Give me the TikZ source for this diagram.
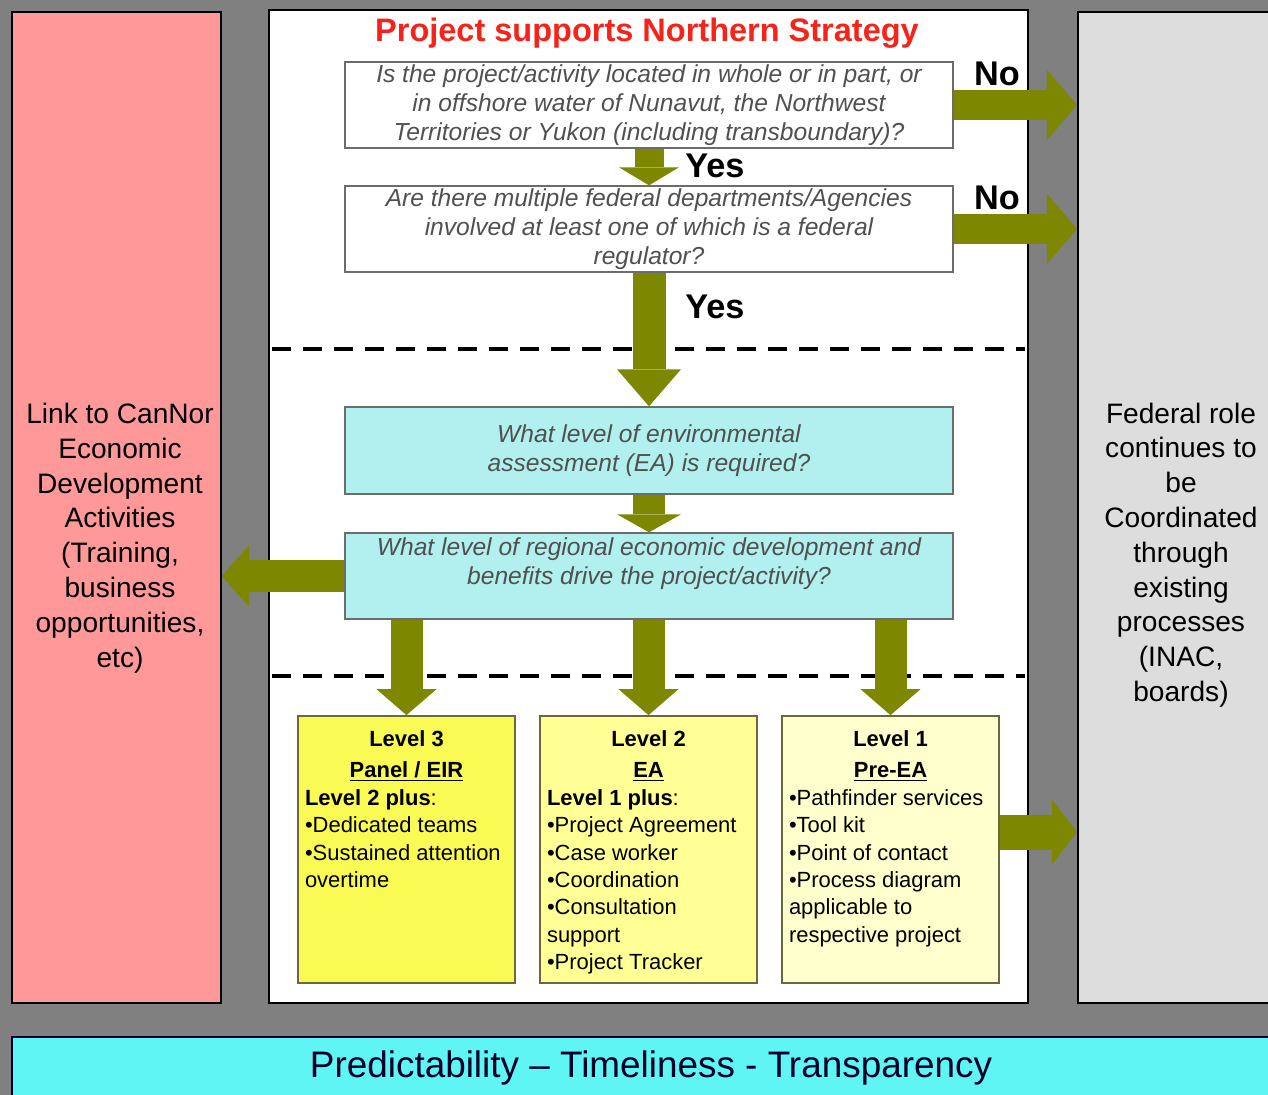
\documentclass[tikz,border=0pt]{standalone}
\usepackage{fontspec}
\setmainfont{Liberation Sans}
\usepackage{xcolor}
\usetikzlibrary{positioning,arrows.meta}

\definecolor{bggray}{RGB}{128,128,128}
\definecolor{linkpink}{RGB}{255,153,153}
\definecolor{fedgray}{RGB}{221,221,221}
\definecolor{barcyan}{RGB}{95,245,245}
\definecolor{askcyan}{RGB}{178,240,240}
\definecolor{arrowgreen}{RGB}{125,135,0}
\definecolor{lvthree}{RGB}{250,250,85}
\definecolor{lvtwo}{RGB}{255,255,150}
\definecolor{lvone}{RGB}{255,255,205}
\definecolor{lvedge}{RGB}{105,105,60}
\definecolor{asktext}{RGB}{80,80,80}
\definecolor{titlered}{RGB}{245,35,25}

\tikzset{
  panel/.style={draw=black, line width=1.2pt, inner sep=0pt},
  askbox/.style={draw=gray!85!black, line width=0.8pt, fill=white, minimum width=12.16cm, minimum height=1.72cm, inner sep=0pt, text=asktext, align=center, font=\fontsize{14}{16.4}\selectfont\itshape},
  lvlbox/.style={draw=lvedge, line width=1pt, inner xsep=0.14cm, inner ysep=0.3cm, font=\fontsize{12.5}{15.6}\selectfont},
  sidetext/.style={align=center, font=\fontsize{16}{19.8}\selectfont},
  answer/.style={font=\fontsize{19.5}{22}\selectfont\bfseries},
  divider/.style={line width=2.2pt, dash pattern=on 0.38cm off 0.24cm},
  blockarrow/.style n args={3}{arrowgreen, line width=#1, -{Triangle[width=#2, length=#3, line width=0pt]}}
}

\begin{document}
\begin{tikzpicture}[x=0.02cm, y=-0.02cm]
    \useasboundingbox (0,0) rectangle (1268,1095);
    \fill[bggray] (0,0) rectangle (1268,1095);

    % Panels
    \node[panel, fill=linkpink, minimum width=4.18cm, minimum height=19.82cm] (link) at (116.5,507.5) {};
    \node[panel, fill=white, minimum width=15.18cm, minimum height=19.86cm] (ctr) at (648.5,506.5) {};
    \node[panel, fill=fedgray, minimum width=4.24cm, minimum height=19.82cm] (fed) at (1184,507.5) {};
    \node[draw=black!80!blue, line width=1.2pt, fill=barcyan, minimum width=25.56cm, minimum height=1.24cm,
          text=black!85!blue, font=\fontsize{21}{24}\selectfont] (bar) at (651,1068) {Predictability -- Timeliness - Transparency};

    % Side texts
    \node[sidetext] (linktxt) at (120,538) {Link to CanNor\\Economic\\Development\\Activities\\(Training,\\business\\opportunities,\\etc)};
    \node[sidetext] (fedtxt) at (1181,555) {Federal role\\continues to\\be\\Coordinated\\through\\existing\\processes\\(INAC,\\boards)};

    % Title
    \node[text=titlered, font=\fontsize{18.5}{22}\selectfont\bfseries] (title) at (647,33) {Project supports Northern Strategy};

    % Questions
    \node[askbox] (b1) at (649,105) {Is the project/activity located in whole or in part, or\\in offshore water of Nunavut, the Northwest\\Territories or Yukon (including transboundary)?};
    \node[askbox] (b2) at (649,229) {Are there multiple federal departments/Agencies\\involved at least one of which is a federal\\regulator?};

    % Dividers
    \draw[divider] (272,349) -- (1025,349);
    \draw[divider] (272,676) -- (1025,676);

    \node[askbox, fill=askcyan, minimum height=1.74cm] (b3) at (649,450.5) {What level of environmental\\assessment (EA) is required?};
    \node[askbox, fill=askcyan] (b4) at (649,576) {};
    \node[askbox, draw=none, fill=none, minimum height=0pt] (b4txt) at ([yshift=0.25cm]b4.center) {What level of regional economic development and\\benefits drive the project/activity?};

    % Levels
    \node[lvlbox, fill=lvthree] (l3) at (406.5,849.5) {\parbox[t][4.74cm][t]{4.06cm}{\centering\textbf{Level 3}\\[2pt]\textbf{\underline{Panel / EIR}}\par
        \raggedright\textbf{Level 2 plus}:\\•Dedicated teams\\•Sustained attention\\overtime}};
    \node[lvlbox, fill=lvtwo] (l2) at (648.5,849.5) {\parbox[t][4.74cm][t]{4.06cm}{\centering\textbf{Level 2}\\[2pt]\textbf{\underline{EA}}\par
        \raggedright\textbf{Level 1 plus}:\\•Project Agreement\\•Case worker\\•Coordination\\•Consultation\\support\\•Project Tracker}};
    \node[lvlbox, fill=lvone] (l1) at (890.5,849.5) {\parbox[t][4.74cm][t]{4.06cm}{\centering\textbf{Level 1}\\[2pt]\textbf{\underline{Pre-EA}}\par
        \raggedright•Pathfinder services\\•Tool kit\\•Point of contact\\•Process diagram\\applicable to\\respective project}};

    % Arrows
    \draw[blockarrow={0.6cm}{1.4cm}{0.6cm}] (b1.east) -- (b1.east -| fed.west);
    \draw[blockarrow={0.6cm}{1.4cm}{0.6cm}] (b2.east) -- (b2.east -| fed.west);
    \draw[blockarrow={0.58cm}{1.2cm}{0.36cm}] (b1.south) -- (b2.north);
    \draw[blockarrow={0.66cm}{1.28cm}{0.74cm}] (b2.south) -- (b3.north);
    \draw[blockarrow={0.64cm}{1.28cm}{0.36cm}] (b3.south) -- (b4.north);
    \draw[blockarrow={0.64cm}{1.24cm}{0.54cm}] (b4.west) -- (b4.west -| link.east);
    \draw[blockarrow={0.64cm}{1.2cm}{0.52cm}] (b4.south -| l3.north) -- (l3.north);
    \draw[blockarrow={0.64cm}{1.2cm}{0.52cm}] (b4.south -| l2.north) -- (l2.north);
    \draw[blockarrow={0.64cm}{1.2cm}{0.52cm}] (b4.south -| l1.north) -- (l1.north);
    \draw[blockarrow={0.7cm}{1.3cm}{0.5cm}] ([yshift=0.35cm]l1.east) -- ([yshift=0.35cm]l1.east -| fed.west);

    % Answers
    \node[answer] (no1) at (997,74) {No};
    \node[answer] (no2) at (997,198) {No};
    \node[answer] (yes1) at (715,166) {Yes};
    \node[answer] (yes2) at (715,307) {Yes};
\end{tikzpicture}
\end{document}
